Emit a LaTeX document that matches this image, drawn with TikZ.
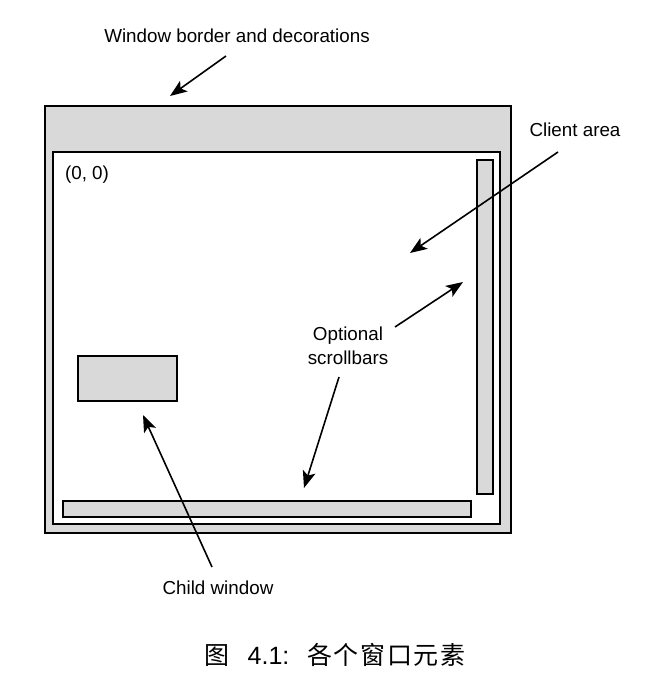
\documentclass[tikz,border=0pt]{standalone}
\usepackage{fontspec}
\setmainfont{Liberation Sans}
\newfontfamily\cjk{Noto Sans CJK SC}
\usetikzlibrary{arrows.meta}

\begin{document}
\begin{tikzpicture}[x=0.5pt, y=-0.5pt, every node/.style={font=\fontsize{9.4}{12}\selectfont, inner sep=0pt}, >={Stealth[length=8.5pt, width=6.5pt, inset=2pt]}, frame/.style={draw=black, line width=1pt, fill=gray!30}, bar/.style={draw=black, line width=0.9pt, fill=gray!30}, pointer/.style={->, line width=0.8pt}]
	\useasboundingbox (0,0) rectangle (655,691);
	% window, client area, scrollbars, child
	\draw[frame] (45,106) rectangle (511,533);
	\draw[frame, fill=white] (53,152) rectangle (500,524);
	\draw[bar] (477,160) rectangle (493,494);
	\draw[bar] (63,501) rectangle (471,517);
	\draw[bar] (78,356) rectangle (177,401);
	% labels
	\node (border) at (237,36) {Window border and decorations};
	\node (client) at (575,130) {Client area};
	\node (origin) at (87,175) {(0, 0)};
	\node[align=center] (scroll) at (348,346) {Optional\\scrollbars};
	\node (child) at (218,588) {Child window};
	\node[font=\fontsize{12.5}{14}\selectfont] (caption) at (335,655) {{\cjk 图}\hspace{9pt}4.1:\hspace{9pt}{\cjk 各\hspace{0.8pt}个\hspace{0.8pt}窗\hspace{0.8pt}口\hspace{0.8pt}元\hspace{0.8pt}素}};
	% arrows
	\coordinate (bordertail) at (226,56);
	\coordinate (borderhead) at (170,96);
	\coordinate (clienttail) at (558,152);
	\coordinate (clienthead) at (410,253);
	\coordinate (vbartail) at (395,327);
	\coordinate (vbarhead) at (463,282);
	\coordinate (hbartail) at (339,377);
	\coordinate (hbarhead) at (304,488);
	\coordinate (childtail) at (212,567);
	\coordinate (childhead) at (143,415);
	\draw[pointer] (bordertail) -- (borderhead);
	\draw[pointer] (clienttail) -- (clienthead);
	\draw[pointer] (vbartail) -- (vbarhead);
	\draw[pointer] (hbartail) -- (hbarhead);
	\draw[pointer] (childtail) -- (childhead);
\end{tikzpicture}
\end{document}
